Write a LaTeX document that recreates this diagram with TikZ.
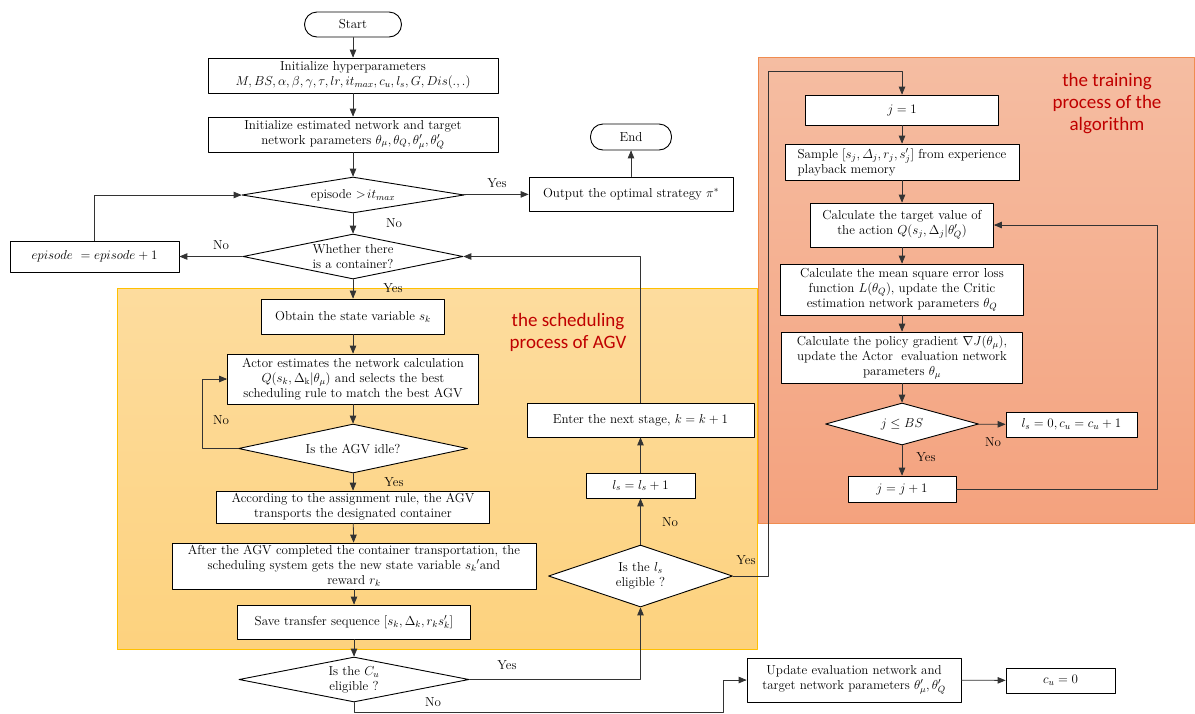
\RequirePackage{fix-cm}
\documentclass[tikz,border=0pt]{standalone}
\usepackage{fontspec}
\newfontfamily\carlito{Carlito}
\usetikzlibrary{arrows,shapes.geometric}
\definecolor{titlered}{HTML}{C00000}
\definecolor{agvtop}{HTML}{FDDC9E}
\definecolor{agvbot}{HTML}{FDD27E}
\definecolor{agvedge}{HTML}{FFC000}
\definecolor{traintop}{HTML}{F5BDA2}
\definecolor{trainbot}{HTML}{F4A27E}
\definecolor{trainedge}{HTML}{F08C50}
\begin{document}
\begin{tikzpicture}[line cap=round,line join=round,>=triangle 45,x=1pt,y=-1pt,
  font=\fontsize{13}{15}\selectfont,
  box/.style={draw,line width=0.9pt,fill=white,align=center,inner xsep=2pt,inner ysep=1pt},
  term/.style={box,rounded corners=12.5pt},
  decision/.style={draw,line width=0.9pt,fill=white,shape=diamond,align=center,inner sep=0pt},
  flow/.style={->,draw=black!80,line width=0.8pt},
  lbl/.style={inner sep=1pt},
  region/.style={font=\carlito\fontsize{19}{22}\selectfont,text=titlered,align=center}]
\useasboundingbox (0,0) rectangle (1195,713);
\path[draw=agvedge,line width=0.8pt,top color=agvtop,bottom color=agvbot] (117,288) rectangle (757,649);
\path[draw=trainedge,line width=0.8pt,top color=traintop,bottom color=trainbot] (758,57) rectangle (1194,523);
\node[region] (agvtitle) at (568,332) {the scheduling\\process of AGV};
\node[region] (traintitle) at (1107,103.5) {the training\\process of the\\algorithm};
\node[term,minimum width=97,minimum height=25] (start) at (353,24.5) {Start};
\node[box,minimum width=290,minimum height=35] (hyper) at (353,75.5) {Initialize hyperparameters\\$M,BS,\alpha,\beta,\gamma,\tau,lr,it_{max},c_u,l_s,G,Dis(.,.)$};
\node[box,minimum width=290,minimum height=35] (initnet) at (353,134.5) {Initialize estimated network and target\\network parameters $\theta_\mu,\theta_Q,\theta'_\mu,\theta'_Q$};
\node[decision,minimum width=222,minimum height=36,aspect=6] (epis) at (353,195) {episode $>\!it_{max}$};
\node[box,minimum width=204,minimum height=34] (output) at (631,194) {Output the optimal strategy $\pi^*$};
\node[term,minimum width=81,minimum height=26] (end) at (631,137) {End};
\node[decision,minimum width=220,minimum height=45,aspect=4.9] (cont) at (353,256.5) {Whether there\\is a container?};
\node[box,minimum width=169,minimum height=31] (inc) at (94.5,256.5) {$episode\ = episode+1$};
\node[box,minimum width=183,minimum height=35] (obtain) at (353,316.5) {Obtain the state variable $s_k$};
\node[box,minimum width=251,minimum height=50] (actor) at (353,379) {Actor estimates the network calculation\\$Q(s_k,\Delta_{\mathrm{k}}|\theta_\mu)$ and selects the best\\scheduling rule to match the best AGV};
\node[decision,minimum width=229,minimum height=49,aspect=4.7] (idle) at (353,448.5) {Is the AGV idle?};
\node[box,minimum width=273,minimum height=32] (assign) at (353,507) {According to the assignment rule, the AGV\\transports the designated container};
\node[box,minimum width=364,minimum height=46] (after) at (354,566) {After the AGV completed the container transportation, the\\scheduling system gets the new state variable ${s_k}'$and\\reward $r_k$};
\node[box,minimum width=233,minimum height=34] (save) at (354,622) {Save transfer sequence $[s_k,\Delta_k,r_ks'_k]$};
\node[decision,minimum width=230,minimum height=45,aspect=5.1] (cu) at (354,679.5) {Is the $C_u$\\eligible ?};
\node[box,minimum width=227,minimum height=34] (enter) at (640.5,420) {Enter the next stage, $k=k+1$};
\node[box,minimum width=109,minimum height=25] (lsinc) at (640.5,485.5) {$l_s=l_s+1$};
\node[decision,minimum width=184,minimum height=62,aspect=3] (ls) at (640.5,576) {Is the $l_s$\\eligible ?};
\node[box,minimum width=214,minimum height=44] (update) at (854,680) {Update evaluation network and\\target network parameters $\theta'_\mu,\theta'_Q$};
\node[box,minimum width=109,minimum height=25] (cuz) at (1060.5,680.5) {$c_u=0$};
\node[box,minimum width=193,minimum height=30] (j1) at (902,110) {$j=1$};
\node[box,minimum width=234,minimum height=36,align=left] (sample) at (902,162) {Sample $\big[s_j,\mathnormal{\Delta}_j,r_j,s'_j\big]$ from experience\\playback memory};
\node[box,minimum width=183,minimum height=44] (target) at (902,225) {Calculate the target value of\\the action $Q\big(s_j,\Delta_j|\theta'_Q\big)$};
\node[box,minimum width=243,minimum height=51] (mse) at (902,289.5) {Calculate the mean square error loss\\function $L(\theta_Q)$, update the Critic\\estimation network parameters $\theta_Q$};
\node[box,minimum width=241,minimum height=51] (policy) at (902,357.5) {Calculate the policy gradient $\nabla J(\theta_\mu)$,\\update the Actor\ \ evaluation network\\parameters $\theta_\mu$};
\node[decision,minimum width=153,minimum height=42,aspect=3.6] (jbs) at (902,424) {$j\le BS$};
\node[box,minimum width=131,minimum height=25] (lsz) at (1071.5,424.5) {$l_s=0,c_u=c_u+1$};
\node[box,minimum width=108,minimum height=26] (jinc) at (902,489) {$j=j+1$};
\coordinate (trainin) at (768,71);
\coordinate (trainloop) at (1157,225);
\coordinate (cuout) at (723,712);
\draw[flow] (start) -- (hyper);
\draw[flow] (hyper) -- (initnet);
\draw[flow] (initnet) -- (epis);
\draw[flow] (epis) -- (output);
\draw[flow] (output) -- (end);
\draw[flow] (epis) -- (cont);
\draw[flow] (cont) -- (inc);
\draw[flow] (inc.north) |- (epis.west);
\draw[flow] (cont) -- (obtain);
\draw[flow] (obtain) -- (actor);
\draw[flow] (actor) -- (idle);
\draw[flow] (idle.west) -- ++(-36,0) |- (actor.west);
\draw[flow] (idle) -- (assign);
\draw[flow] (assign) -- (after);
\draw[flow] (after) -- (save);
\draw[flow] (save) -- (cu);
\draw[flow] (cu.east) -| (ls.south);
\draw[flow] (ls) -- (lsinc);
\draw[flow] (lsinc) -- (enter);
\draw[flow] (enter.north) |- (cont.east);
\draw[flow] (ls.east) -| (trainin) -| (j1.north);
\draw[flow] (j1) -- (sample);
\draw[flow] (sample) -- (target);
\draw[flow] (target) -- (mse);
\draw[flow] (mse) -- (policy);
\draw[flow] (policy) -- (jbs);
\draw[flow] (jbs) -- (lsz);
\draw[flow] (jbs) -- (jinc);
\draw[flow] (jinc.east) -| (trainloop) -- (target.east);
\draw[flow] (cu.south) |- (cuout) |- (update.west);
\draw[flow] (update) -- (cuz);
\node[lbl] (yesepis) at (497,183) {Yes};
\node[lbl] (noepis) at (394,223) {No};
\node[lbl] (nocont) at (221,245) {No};
\node[lbl] (yescont) at (393,288) {Yes};
\node[lbl] (noidle) at (221,420) {No};
\node[lbl] (yesidle) at (394,482) {Yes};
\node[lbl] (yescu) at (507,665) {Yes};
\node[lbl] (nocu) at (433,702) {No};
\node[lbl] (nols) at (670,522) {No};
\node[lbl] (yesls) at (746,560) {Yes};
\node[lbl] (nojbs) at (993,442) {No};
\node[lbl] (yesjbs) at (926,457) {Yes};
\end{tikzpicture}
\end{document}
